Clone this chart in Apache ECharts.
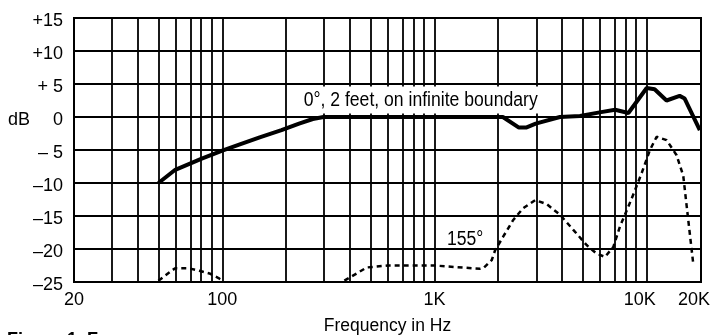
<!DOCTYPE html>
<html>
<head>
<meta charset="utf-8">
<script src="https://cdn.jsdelivr.net/npm/echarts@6/dist/echarts.min.js"></script>
<style>
  html, body { margin: 0; padding: 0; background: #fff; }
  #chart { width: 712px; height: 335px; }
</style>
</head>
<body>
<div id="chart"></div>
<script>
// 0 deg, 2 feet, on infinite boundary (solid)
const freq0 = [50, 60, 80, 100, 120, 150, 190, 230, 267, 300, 1000, 2100, 2500, 2700, 3000, 3900, 4850, 6000, 7100, 8200, 10000, 10900, 12400, 14300, 15100, 17800];
const db0 = [-10, -8.0, -6.3, -5.1, -4.2, -3.1, -2.0, -1.0, -0.3, 0, 0, 0, -1.6, -1.6, -1.0, 0, 0.15, 0.7, 1.1, 0.6, 4.4, 4.2, 2.5, 3.2, 2.8, -2.0];

// 155 deg (dashed), null = gap
const freq155 = [50, 56, 60, 69, 78, 87, 96, 99, null, 376, 430, 479, 600, 1000, 1640, 1700, 1860, 1930, 2110, 2350, 2620, 2980, 3380, 3900, 4510, 5210, 5810, 6360, 6960, 7480, 8190, 8810, 9470, 10360, 11140, 12420, 13840, 14870, 15700, 16570];
const db155 = [-24.8, -23.6, -22.9, -22.9, -23.3, -23.7, -24.4, -24.7, null, -24.8, -23.7, -22.8, -22.5, -22.5, -23.0, -22.9, -21.7, -20.2, -18.1, -15.6, -13.8, -12.6, -13.2, -14.8, -17.1, -19.4, -20.7, -21.2, -19.7, -16.6, -13.6, -11.1, -8.5, -5.0, -3.0, -3.5, -5.8, -8.9, -15.6, -22.2];

// vertical grid lines (Hz)
const gridFreqs = [30, 40, 50, 60, 70, 80, 90, 100, 200, 300, 400, 500, 600, 700, 800, 900,
                   1000, 2000, 3000, 4000, 5000, 6000, 7000, 8000, 9000, 10000];
const xTickFreqs = [20, 100, 1000, 10000, 20000];
const xTickLabels = ['20', '100', '1K', '10K', '20K'];
const yTickLabels = ['–25', '–20', '–15', '–10', '– 5', '0', '+ 5', '+10', '+15'];

const FONT = 'Liberation Sans, Arial, Helvetica, sans-serif';
const lg = f => Math.log10(f);
const X_MIN = lg(20);
const X_MAX = lg(18030); // chart frame ends a little short of 20K

const pairs = (fs, ds) => fs.map((f, i) => (f == null || ds[i] == null) ? '-' : [lg(f), ds[i]]);
const xLabelVals = xTickFreqs.map(f => Math.min(lg(f), X_MAX));

var chart = echarts.init(document.getElementById('chart'));
var option = {
    animation: false,
    grid: {
        left: 74, right: 11, top: 18, bottom: 53,
        containLabel: false, outerBoundsMode: 'none',
        show: true, borderColor: '#000', borderWidth: 2
    },
    xAxis: {
        type: 'value', min: X_MIN, max: X_MAX,
        axisLine: { show: true, lineStyle: { color: '#000', width: 2 } },
        axisTick: { show: false },
        splitLine: { show: false },
        axisLabel: {
            customValues: xLabelVals,
            margin: 9,
            color: '#000', fontSize: 18, fontFamily: FONT,
            formatter: (v) => {
                let i = xLabelVals.findIndex(x => Math.abs(x - v) < 1e-6);
                if (i < 0) return '';
                // 10K and 20K sit a little left of their lines in the original
                return i >= 3 ? '{s|' + xTickLabels[i] + '}' : xTickLabels[i];
            },
            rich: {
                s: { color: '#000', fontSize: 18, fontFamily: FONT, padding: [0, 14, 0, 0] }
            }
        },
        name: 'Frequency in Hz',
        nameLocation: 'middle',
        nameGap: 35,
        nameTextStyle: { color: '#000', fontSize: 17.5, fontFamily: FONT }
    },
    yAxis: {
        type: 'value', min: -25, max: 15, interval: 5,
        axisLine: { show: false },
        axisTick: { show: false },
        splitLine: { show: true, lineStyle: { color: '#000', width: 1.8 } },
        axisLabel: {
            margin: 11,
            color: '#000', fontSize: 18, fontFamily: FONT,
            // labels sit a few px below their grid lines in the original
            formatter: v => '{v|' + yTickLabels[Math.round((v + 25) / 5)] + '}',
            rich: {
                v: { color: '#000', fontSize: 18, fontFamily: FONT, padding: [7, 0, 0, 0] }
            }
        }
    },
    series: [{
        name: '0°',
        type: 'line',
        data: pairs(freq0, db0),
        symbol: 'none',
        lineStyle: { color: '#000', width: 4 },
        emphasis: { disabled: true },
        z: 5,
        markLine: {
            silent: true,
            symbol: ['none', 'none'],
            animation: false,
            label: { show: false },
            lineStyle: { color: '#000', width: 1.8, type: 'solid' },
            data: gridFreqs.map(f => ({ xAxis: lg(f) }))
        }
    }, {
        name: '155°',
        type: 'line',
        data: pairs(freq155, db155),
        symbol: 'none',
        connectNulls: false,
        lineStyle: { color: '#000', width: 2.5, type: [5, 4] },
        emphasis: { disabled: true },
        z: 4
    }],
    graphic: [{
        type: 'text', x: 8, y: 120, z: 100,
        style: { text: 'dB', fill: '#000', fontSize: 18, fontFamily: FONT, verticalAlign: 'middle' }
    }, {
        type: 'text', x: 301, y: 100, scaleX: 0.88, z: 100,
        style: {
            text: '0°, 2 feet, on infinite boundary', fill: '#000', fontSize: 20, fontFamily: FONT,
            verticalAlign: 'middle', backgroundColor: '#fff', padding: [4, 3, 3, 3]
        }
    }, {
        type: 'text', x: 447, y: 239, scaleX: 0.88, z: 100,
        style: { text: '155°', fill: '#000', fontSize: 20, fontFamily: FONT, verticalAlign: 'middle' }
    }, {
        type: 'text', x: 7, y: 331, z: 100,
        style: { text: 'Figure 1. F', fill: '#000', fontSize: 18, fontWeight: 'bold', fontFamily: FONT, verticalAlign: 'top' }
    }]
};
chart.setOption(option);
</script>
</body>
</html>
